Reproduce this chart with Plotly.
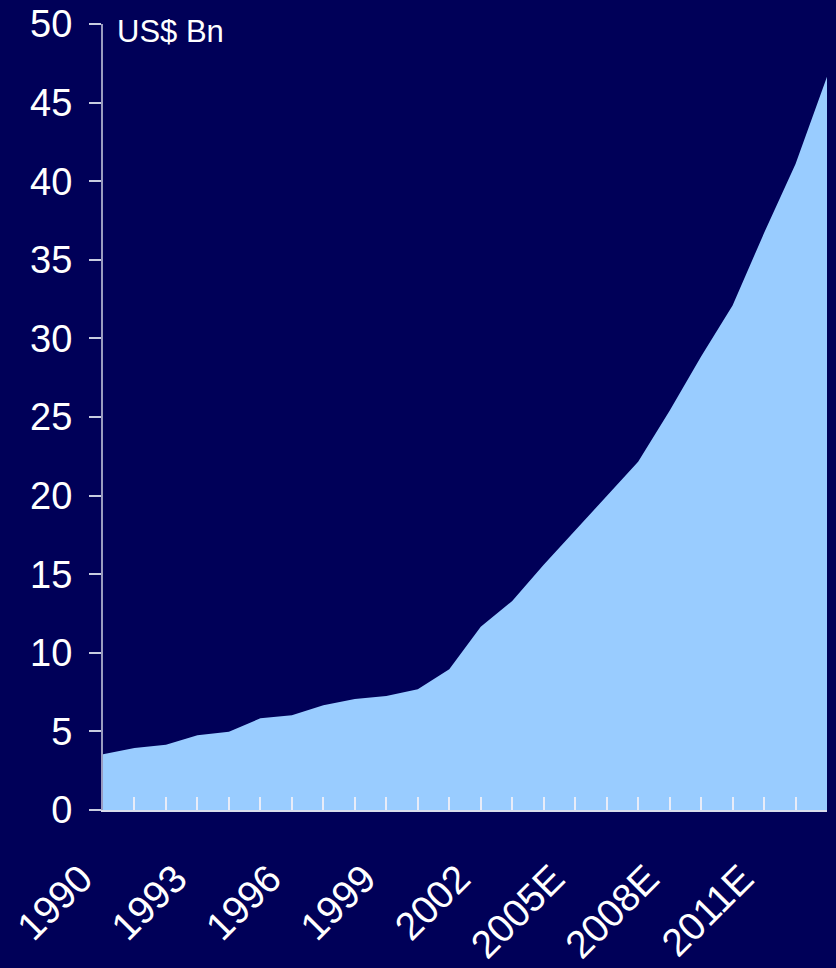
import plotly.graph_objects as go

# Annual market size, US$ billions (2004 onward are estimates)
years = ["1990", "1991", "1992", "1993", "1994", "1995", "1996", "1997",
         "1998", "1999", "2000", "2001", "2002", "2003", "2004E", "2005E",
         "2006E", "2007E", "2008E", "2009E", "2010E", "2011E", "2012E", "2013E"]
values = [3.55, 3.95, 4.15, 4.75, 4.98, 5.83, 6.02, 6.66,
          7.06, 7.25, 7.68, 8.95, 11.65, 13.3, 15.6, 17.8,
          19.95, 22.15, 25.4, 28.85, 32.1, 36.7, 41.1, 46.65]
label_every = 3
y_ticks = list(range(0, 55, 5))

BG = "#000058"
FILL = "#99CCFF"
FONT = "Liberation Sans, Arial, sans-serif"

x_idx = list(range(len(years)))
tick_text = [y if i % label_every == 0 else "" for i, y in enumerate(years)]

fig = go.Figure()
fig.add_trace(go.Scatter(
    x=x_idx, y=values, mode="lines", fill="tozeroy",
    fillcolor=FILL, line=dict(width=0, color=FILL),
    hoverinfo="skip", showlegend=False,
))

fig.update_layout(
    width=836, height=968,
    paper_bgcolor=BG, plot_bgcolor=BG,
    margin=dict(l=103, r=9, t=24, b=158),
    font=dict(family=FONT, color="white"),
    showlegend=False,
)

fig.update_xaxes(
    range=[0, len(years) - 1],
    tickmode="array", tickvals=x_idx, ticktext=tick_text,
    tickangle=-45, tickfont=dict(size=39, color="white", family=FONT),
    ticks="inside", ticklen=13, tickcolor="#E8ECF8", tickwidth=2,
    showline=True, linecolor="#D8DCEC", linewidth=2,
    showgrid=False, zeroline=False,
    ticklabelstandoff=28, ticklabelshift=-22,
    automargin=False,
)

fig.update_yaxes(
    range=[0, 50],
    tickmode="array", tickvals=y_ticks,
    tickfont=dict(size=38, color="white", family=FONT),
    ticks="outside", ticklen=12, tickcolor="#C8CCE0", tickwidth=2,
    showline=True, linecolor="#9A9CC0", linewidth=2,
    showgrid=False, zeroline=False,
    ticklabelstandoff=9,
    automargin=False,
)

fig.add_annotation(
    text="US$ Bn", xref="paper", yref="paper",
    x=0.016, y=1, xanchor="left", yanchor="top", yshift=12,
    showarrow=False, font=dict(size=31, color="white", family=FONT),
)

fig.write_html("out.html")
